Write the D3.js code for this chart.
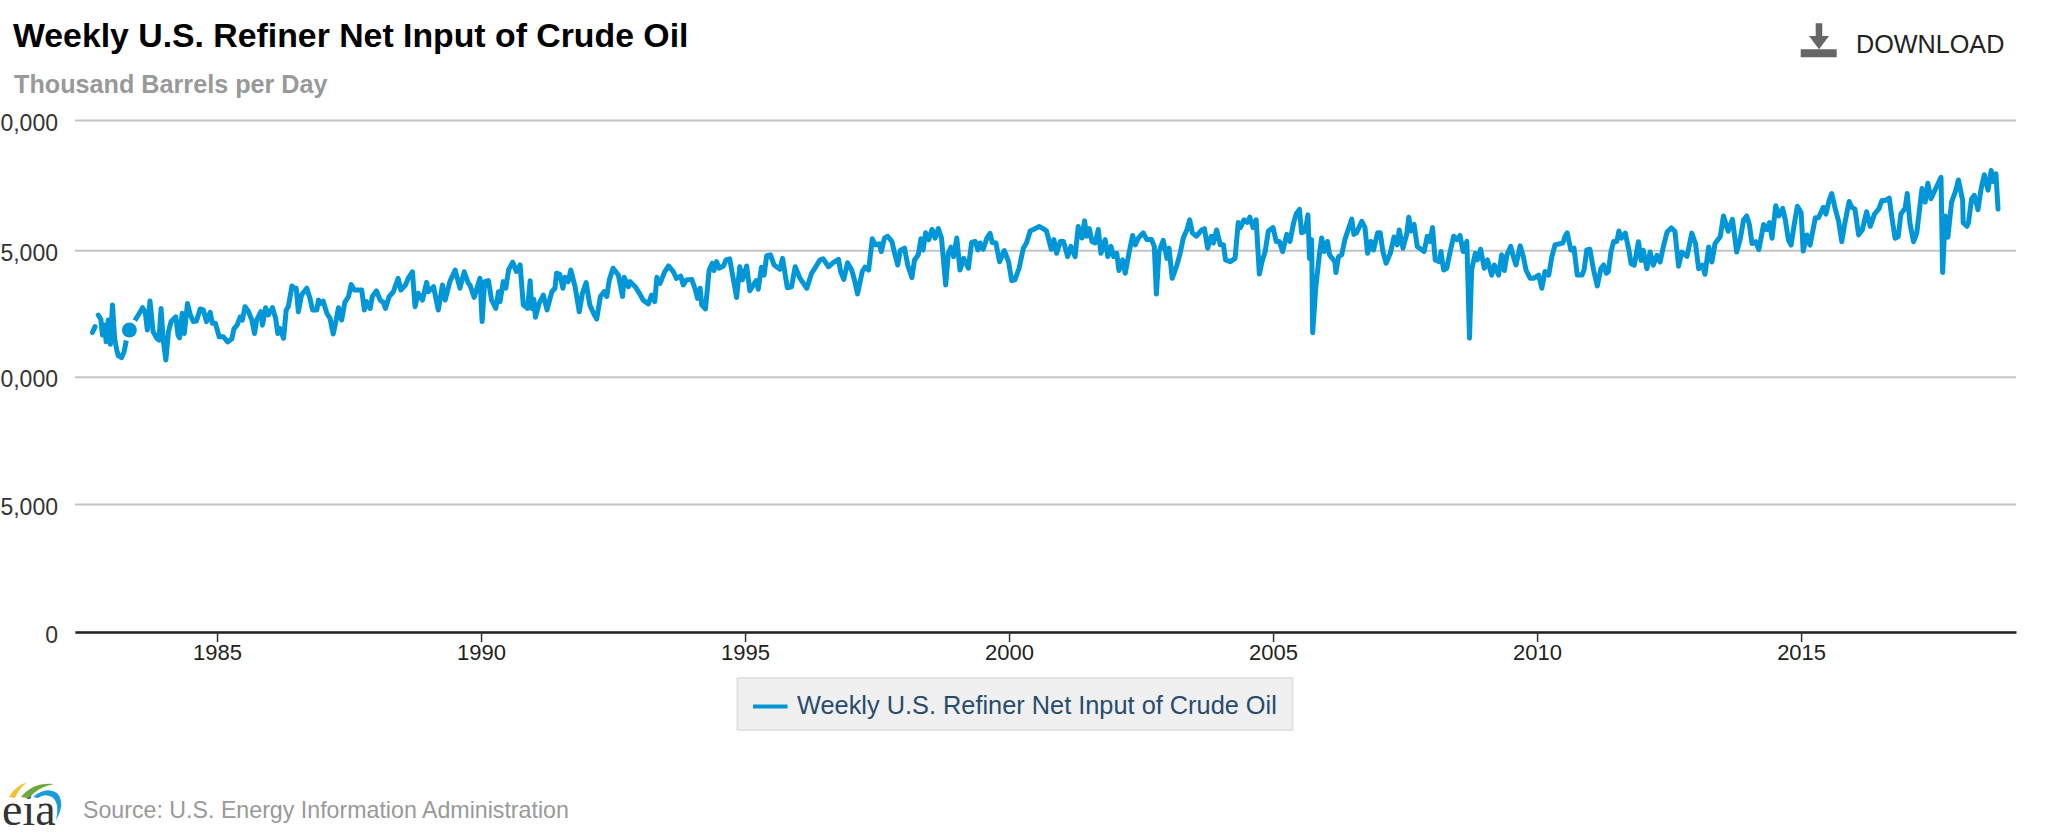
<!DOCTYPE html>
<html>
<head>
<meta charset="utf-8">
<title>Weekly U.S. Refiner Net Input of Crude Oil</title>
<script src="https://cdn.jsdelivr.net/npm/d3@7"></script>
<style>
  html, body { margin: 0; padding: 0; background: #fff; overflow: hidden; }
  text { font-family: "Liberation Sans", Arial, sans-serif; }
</style>
</head>
<body>
<script>
const chartTitle = "Weekly U.S. Refiner Net Input of Crude Oil";
const chartUnits = "Thousand Barrels per Day";
const sourceText = "Source: U.S. Energy Information Administration";
const xTickYears = [1985, 1990, 1995, 2000, 2005, 2010, 2015];
const yTickValues = [0, 5000, 10000, 15000, 20000];
const highlightPoint = [1983.34, 11850];

// decimal year and thousand barrels per day
const weekYears = [
  1982.64, 1982.69, 1982.71, 1982.75, 1982.80, 1982.83, 1982.87, 1982.90, 1982.94, 1982.98,
  1983.02, 1983.06, 1983.10, 1983.13, 1983.19, 1983.24, 1983.28, 1983.34, 1983.45, 1983.54,
  1983.59, 1983.64, 1983.68, 1983.73, 1983.79, 1983.86, 1983.90, 1983.94, 1983.98, 1984.03,
  1984.08, 1984.13, 1984.22, 1984.26, 1984.29, 1984.34, 1984.38, 1984.44, 1984.49, 1984.55,
  1984.61, 1984.68, 1984.74, 1984.80, 1984.87, 1984.91, 1984.97, 1985.04, 1985.12, 1985.20,
  1985.28, 1985.32, 1985.38, 1985.44, 1985.48, 1985.53, 1985.59, 1985.66, 1985.71, 1985.75,
  1985.83, 1985.86, 1985.92, 1985.97, 1986.05, 1986.11, 1986.15, 1986.19, 1986.26, 1986.31,
  1986.35, 1986.42, 1986.46, 1986.50, 1986.54, 1986.60, 1986.70, 1986.76, 1986.81, 1986.89,
  1986.92, 1986.97, 1987.01, 1987.08, 1987.14, 1987.20, 1987.25, 1987.30, 1987.36, 1987.42,
  1987.49, 1987.54, 1987.60, 1987.74, 1987.79, 1987.83, 1987.90, 1987.94, 1988.02, 1988.09,
  1988.15, 1988.19, 1988.26, 1988.34, 1988.43, 1988.48, 1988.57, 1988.62, 1988.70, 1988.75,
  1988.81, 1988.89, 1988.97, 1989.00, 1989.10, 1989.19, 1989.27, 1989.32, 1989.41, 1989.51,
  1989.60, 1989.68, 1989.76, 1989.79, 1989.87, 1989.93, 1989.98, 1990.02, 1990.07, 1990.14,
  1990.20, 1990.28, 1990.33, 1990.36, 1990.42, 1990.47, 1990.52, 1990.60, 1990.67, 1990.74,
  1990.80, 1990.88, 1990.93, 1990.96, 1991.00, 1991.03, 1991.10, 1991.18, 1991.25, 1991.34,
  1991.40, 1991.43, 1991.49, 1991.55, 1991.59, 1991.65, 1991.70, 1991.78, 1991.86, 1991.92,
  1991.99, 1992.06, 1992.13, 1992.19, 1992.26, 1992.33, 1992.38, 1992.43, 1992.50, 1992.60,
  1992.68, 1992.71, 1992.79, 1992.82, 1992.92, 1993.00, 1993.07, 1993.17, 1993.23, 1993.29,
  1993.33, 1993.39, 1993.48, 1993.55, 1993.64, 1993.70, 1993.78, 1993.83, 1993.89, 1993.99,
  1994.05, 1994.10, 1994.15, 1994.18, 1994.25, 1994.32, 1994.38, 1994.41, 1994.46, 1994.51,
  1994.59, 1994.64, 1994.71, 1994.78, 1994.84, 1994.90, 1994.95, 1995.03, 1995.09, 1995.21,
  1995.25, 1995.31, 1995.36, 1995.41, 1995.48, 1995.55, 1995.66, 1995.71, 1995.80, 1995.88,
  1995.95, 1996.04, 1996.17, 1996.26, 1996.42, 1996.48, 1996.58, 1996.67, 1996.77, 1996.81,
  1996.87, 1996.94, 1997.02, 1997.08, 1997.13, 1997.22, 1997.27, 1997.34, 1997.41, 1997.47,
  1997.54, 1997.58, 1997.64, 1997.70, 1997.78, 1997.84, 1997.89, 1997.94, 1998.02, 1998.08,
  1998.16, 1998.21, 1998.28, 1998.33, 1998.37, 1998.42, 1998.48, 1998.54, 1998.60, 1998.66,
  1998.72, 1998.80, 1998.85, 1998.90, 1998.95, 1999.01, 1999.07, 1999.14, 1999.23, 1999.29,
  1999.36, 1999.41, 1999.45, 1999.51, 1999.58, 1999.64, 1999.68, 1999.75, 1999.82, 1999.91,
  1999.99, 2000.05, 2000.11, 2000.19, 2000.27, 2000.33, 2000.40, 2000.49, 2000.57, 2000.65,
  2000.71, 2000.80, 2000.85, 2000.90, 2000.97, 2001.03, 2001.11, 2001.17, 2001.25, 2001.31,
  2001.38, 2001.43, 2001.47, 2001.52, 2001.57, 2001.63, 2001.69, 2001.74, 2001.82, 2001.87,
  2001.93, 2001.98, 2002.04, 2002.08, 2002.15, 2002.20, 2002.27, 2002.34, 2002.39, 2002.45,
  2002.54, 2002.61, 2002.70, 2002.75, 2002.79, 2002.84, 2002.92, 2002.99, 2003.03, 2003.09,
  2003.18, 2003.24, 2003.30, 2003.37, 2003.42, 2003.47, 2003.55, 2003.65, 2003.70, 2003.76,
  2003.83, 2003.87, 2003.93, 2004.00, 2004.06, 2004.10, 2004.19, 2004.28, 2004.34, 2004.38,
  2004.45, 2004.51, 2004.56, 2004.62, 2004.68, 2004.74, 2004.79, 2004.85, 2004.91, 2005.00,
  2005.06, 2005.12, 2005.18, 2005.26, 2005.32, 2005.39, 2005.44, 2005.50, 2005.54, 2005.61,
  2005.66, 2005.69, 2005.73, 2005.75, 2005.81, 2005.88, 2005.92, 2005.97, 2006.03, 2006.07,
  2006.17, 2006.19, 2006.24, 2006.30, 2006.36, 2006.49, 2006.53, 2006.58, 2006.68, 2006.74,
  2006.79, 2006.85, 2006.90, 2006.98, 2007.03, 2007.08, 2007.14, 2007.22, 2007.29, 2007.35,
  2007.39, 2007.46, 2007.53, 2007.57, 2007.61, 2007.67, 2007.73, 2007.86, 2007.92, 2007.97,
  2008.02, 2008.07, 2008.15, 2008.18, 2008.23, 2008.29, 2008.34, 2008.42, 2008.48, 2008.54,
  2008.60, 2008.67, 2008.72, 2008.76, 2008.83, 2008.87, 2008.93, 2009.00, 2009.06, 2009.14,
  2009.19, 2009.27, 2009.33, 2009.38, 2009.43, 2009.50, 2009.55, 2009.60, 2009.68, 2009.74,
  2009.79, 2009.87, 2009.93, 2010.03, 2010.09, 2010.15, 2010.22, 2010.28, 2010.34, 2010.49,
  2010.53, 2010.57, 2010.64, 2010.70, 2010.76, 2010.85, 2010.89, 2010.94, 2011.00, 2011.07,
  2011.14, 2011.21, 2011.26, 2011.31, 2011.35, 2011.40, 2011.45, 2011.51, 2011.55, 2011.60,
  2011.67, 2011.74, 2011.78, 2011.84, 2011.92, 2011.97, 2012.01, 2012.08, 2012.14, 2012.20,
  2012.27, 2012.33, 2012.39, 2012.46, 2012.54, 2012.61, 2012.68, 2012.74, 2012.84, 2012.93,
  2013.00, 2013.06, 2013.13, 2013.18, 2013.25, 2013.31, 2013.37, 2013.47, 2013.53, 2013.62,
  2013.70, 2013.78, 2013.85, 2013.91, 2013.97, 2014.02, 2014.07, 2014.14, 2014.20, 2014.29,
  2014.35, 2014.40, 2014.45, 2014.52, 2014.58, 2014.65, 2014.70, 2014.76, 2014.81, 2014.87,
  2014.93, 2015.00, 2015.04, 2015.11, 2015.17, 2015.27, 2015.33, 2015.42, 2015.47, 2015.53,
  2015.58, 2015.64, 2015.71, 2015.77, 2015.83, 2015.91, 2015.96, 2016.02, 2016.09, 2016.16,
  2016.24, 2016.31, 2016.39, 2016.47, 2016.53, 2016.59, 2016.67, 2016.72, 2016.78, 2016.84,
  2016.89, 2016.97, 2017.01, 2017.06, 2017.13, 2017.19, 2017.29, 2017.35, 2017.40, 2017.46,
  2017.55, 2017.65, 2017.68, 2017.73, 2017.78, 2017.85, 2017.92, 2017.98, 2018.06, 2018.07,
  2018.14, 2018.17, 2018.23, 2018.28, 2018.35, 2018.41, 2018.47, 2018.54, 2018.60, 2018.64,
  2018.69, 2018.73
];

const refinerInput = [
  11750, 11980, null, 12440, 12270, 11650, 12040, 11380, 12240, 11280,
  12840, 11520, 11060, 10830, 10750, 10990, 11420, 11850, 12240, 12550,
  12730, 12550, 11850, 12990, 11780, 11520, 11450, 12700, 11450, 10660,
  11780, 12180, 12370, 11650, 11540, 12510, 11710, 12900, 12470, 12180,
  12200, 12680, 12640, 12180, 12550, 12110, 12110, 11580, 11580, 11380,
  11490, 11890, 12040, 12370, 12240, 12770, 12600, 12240, 11710, 12240,
  12570, 12040, 12730, 12440, 12730, 12310, 11710, 11910, 11520, 12640,
  12770, 13590, 13500, 13500, 12570, 13230, 13500, 13100, 12640, 12640,
  13030, 12900, 12990, 12510, 12310, 11690, 12180, 12730, 12240, 12940,
  13170, 13650, 13430, 13430, 12640, 12970, 12700, 13170, 13390, 13030,
  12940, 12700, 13170, 13360, 13890, 13430, 13630, 13890, 14150, 12770,
  13300, 13030, 13730, 13360, 13560, 12640, 13630, 13030, 13760, 14220,
  13500, 14150, 13690, 13630, 13140, 13560, 13890, 12180, 13760, 13800,
  13030, 12700, 13360, 12970, 13760, 13500, 14220, 14530, 14160, 14420,
  12840, 12700, 13800, 12700, 13060, 12350, 12900, 13230, 12640, 13360,
  13500, 14090, 14060, 13500, 13930, 13760, 14220, 13560, 12570, 13300,
  13720, 12840, 12510, 12280, 13170, 13360, 13170, 13830, 14290, 14020,
  13170, 13930, 13560, 13760, 13560, 13300, 13030, 12880, 13230, 12970,
  13930, 13690, 14160, 14380, 14160, 13890, 13980, 13630, 13830, 13850,
  13500, 13100, 13500, 12840, 12680, 14220, 14490, 14200, 14550, 14290,
  14380, 14620, 14660, 13830, 13130, 14350, 13830, 14380, 13400, 13800,
  13460, 14330, 14020, 14790, 14820, 14420, 14250, 14680, 13520, 13560,
  14350, 13890, 13500, 14090, 14620, 14660, 14350, 14510, 14640, 14160,
  13850, 14510, 14220, 13760, 13270, 14160, 14330, 14220, 15440, 15210,
  15250, 14950, 15470, 15540, 15340, 14820, 14420, 14990, 15080, 14420,
  13920, 14620, 14820, 15440, 15010, 15670, 15410, 15800, 15470, 15830,
  15470, 13630, 14880, 15120, 14750, 15470, 14220, 14680, 14290, 15300,
  15340, 15010, 15280, 15040, 15470, 15650, 15300, 15280, 14550, 14990,
  14550, 13800, 13830, 14290, 15080, 15280, 15740, 15830, 15910, 15830,
  15740, 15040, 15410, 14880, 15340, 15340, 14750, 15150, 14750, 15910,
  15470, 16130, 15540, 15830, 15340, 15280, 15800, 14880, 15410, 14750,
  15150, 14750, 14880, 14200, 14620, 14090, 14880, 15570, 15210, 15470,
  15670, 15410, 15410, 15150, 13270, 14950, 15380, 14680, 15080, 13890,
  14420, 14880, 15470, 15800, 16170, 15670, 15540, 15780, 15830, 15080,
  15540, 15280, 15780, 15210, 15210, 14620, 14550, 14680, 16070, 15870,
  16170, 16070, 16270, 15870, 16170, 14060, 14550, 14950, 15740, 15870,
  15340, 15340, 14950, 15610, 15340, 16070, 16400, 16570, 15670, 15740,
  16360, 14680, 15410, 11740, 13560, 14880, 15470, 14950, 15340, 14820,
  14550, 14120, 14750, 14820, 15410, 16200, 15610, 15670, 16110, 15870,
  14880, 15340, 15010, 15670, 15670, 14950, 14490, 14880, 15510, 15210,
  15780, 15080, 15610, 16270, 15740, 16000, 15150, 14950, 15540, 15340,
  15870, 14620, 14550, 14950, 14220, 14290, 14820, 15540, 15410, 15570,
  14950, 15340, 11520, 14220, 14880, 14620, 15040, 14290, 14620, 14020,
  14420, 14020, 14820, 14200, 14820, 15150, 14750, 14420, 15170, 14750,
  14220, 13890, 13890, 14020, 13500, 14160, 14020, 14750, 15210, 15280,
  15540, 15670, 15010, 15080, 14020, 14020, 14220, 15010, 15040, 14220,
  13590, 14290, 14420, 14090, 14160, 14950, 15340, 15340, 15740, 15470,
  15660, 15000, 14470, 14410, 15330, 14600, 15000, 14270, 14930, 14410,
  14800, 14540, 15130, 15690, 15860, 15730, 14370, 14930, 14760, 15660,
  15260, 14270, 14410, 14050, 15130, 14540, 15260, 15530, 16320, 15730,
  16190, 14930, 15460, 16160, 16320, 15990, 15260, 15330, 15030, 15990,
  15790, 16060, 15460, 16710, 16320, 16610, 16190, 15400, 15200, 15990,
  16690, 16450, 14970, 15590, 15200, 16250, 16250, 16650, 16390, 16910,
  17180, 16650, 16120, 15330, 16060, 16870, 16650, 16580, 15590, 15790,
  16480, 15920, 16390, 16580, 16910, 16910, 17000, 16250, 15460, 15530,
  16390, 16610, 17180, 16060, 15330, 15660, 17370, 16850, 17570, 16980,
  17370, 17800, 14120, 16320, 15500, 16850, 17240, 17700, 16910, 16060,
  15920, 16060, 16980, 17110, 16560, 17370, 17900, 17310, 18060, 17640,
  17930, 16580
];

const width = 2048;
const height = 840;
const plotLeft = 75;
const plotRight = 2016;
const lineColor = "#0096d7";

const svg = d3
  .select("body")
  .append("svg")
  .attr("width", width)
  .attr("height", height)
  .style("display", "block");

const x = d3.scaleLinear().domain([1982.31, 2019.07]).range([plotLeft, plotRight]);
const y = d3
  .scaleLinear()
  .domain(yTickValues)
  .range([632, 504, 376.7, 250.3, 120]);

// grid and y labels, the leading digit runs off the left edge as in the original
const yAxis = svg
  .append("g")
  .attr("transform", `translate(${plotLeft},0)`)
  .call(
    d3
      .axisLeft(y)
      .tickValues(yTickValues)
      .tickSize(-(plotRight - plotLeft))
      .tickPadding(17)
      .tickFormat(d3.format(",")),
  );
yAxis.select(".domain").remove();
yAxis.selectAll("line").attr("stroke", "#c4c4c4").attr("stroke-width", 2);
yAxis
  .selectAll("text")
  .attr("font-size", 23)
  .attr("font-family", "Liberation Sans")
  .attr("fill", "#333")
  .attr("dy", 10);

// x axis
const xAxis = svg
  .append("g")
  .attr("transform", "translate(0,632)")
  .call(
    d3
      .axisBottom(x)
      .tickValues(xTickYears)
      .tickSize(10)
      .tickSizeOuter(0)
      .tickPadding(2)
      .tickFormat(d3.format("d")),
  );
xAxis.select(".domain").attr("stroke", "#222").attr("stroke-width", 2.5);
xAxis.selectAll("line").attr("stroke", "#333").attr("stroke-width", 1.5);
xAxis
  .selectAll("text")
  .attr("font-size", 22)
  .attr("font-family", "Liberation Sans")
  .attr("fill", "#222")
  .attr("dx", 0)
  .attr("dy", "0.71em");

// series
const series = weekYears.map((t, i) => [t, refinerInput[i]]);
const line = d3
  .line()
  .defined((d) => d[1] !== null)
  .x((d) => x(d[0]))
  .y((d) => y(d[1]));

svg
  .append("path")
  .datum(series)
  .attr("d", line)
  .attr("fill", "none")
  .attr("stroke", lineColor)
  .attr("stroke-width", 5)
  .attr("stroke-linejoin", "round")
  .attr("stroke-linecap", "round");

// hover marker with its white halo
svg
  .append("circle")
  .attr("cx", x(highlightPoint[0]))
  .attr("cy", y(highlightPoint[1]))
  .attr("r", 11)
  .attr("fill", "#fff");
svg
  .append("circle")
  .attr("cx", x(highlightPoint[0]))
  .attr("cy", y(highlightPoint[1]))
  .attr("r", 7.5)
  .attr("fill", lineColor);

// titles
svg
  .append("text")
  .attr("x", 13)
  .attr("y", 47)
  .attr("font-size", 33.8)
  .attr("font-weight", "bold")
  .attr("fill", "#000")
  .text(chartTitle);
svg
  .append("text")
  .attr("x", 14)
  .attr("y", 93)
  .attr("font-size", 25.2)
  .attr("font-weight", "bold")
  .attr("fill", "#999")
  .text(chartUnits);

// download button
svg
  .append("path")
  .attr("d", "M1815.7,23.3H1822.3V36H1829L1819,49.3L1809,36H1815.7ZM1800.7,49.3H1836.7V57.3H1800.7Z")
  .attr("fill", "#666");
svg
  .append("text")
  .attr("x", 1856)
  .attr("y", 53.3)
  .attr("font-size", 25.2)
  .attr("fill", "#222")
  .text("DOWNLOAD");

// legend
svg
  .append("rect")
  .attr("x", 737.5)
  .attr("y", 678)
  .attr("width", 555)
  .attr("height", 52)
  .attr("fill", "#f0f0f0")
  .attr("stroke", "#e2e2e2")
  .attr("stroke-width", 2);
svg
  .append("line")
  .attr("x1", 753)
  .attr("x2", 787.5)
  .attr("y1", 706.5)
  .attr("y2", 706.5)
  .attr("stroke", lineColor)
  .attr("stroke-width", 4.2);
svg
  .append("text")
  .attr("x", 797)
  .attr("y", 714)
  .attr("font-size", 25.35)
  .attr("fill", "#274b6d")
  .text(chartTitle);

// source and logo
svg
  .append("text")
  .attr("x", 83)
  .attr("y", 818)
  .attr("font-size", 23.2)
  .attr("fill", "#999")
  .text(sourceText);
svg
  .append("text")
  .attr("x", 2)
  .attr("y", 825)
  .attr("font-size", 46)
  .style("font-family", "Liberation Serif")
  .attr("fill", "#333")
  .text("eia");
svg
  .append("path")
  .attr("d", "M9,797Q14,787 27,782Q19,789 15,798Z")
  .attr("fill", "#f2c230");
svg
  .append("path")
  .attr("d", "M21,797Q33,782 54,784Q38,787 29,798Z")
  .attr("fill", "#6fa83a");
svg
  .append("path")
  .attr("d", "M33,797Q46,786 57,793Q66,803 56,820Q60,803 52,797Q44,793 38,798Z")
  .attr("fill", "#1a9ad6");
</script>
</body>
</html>
